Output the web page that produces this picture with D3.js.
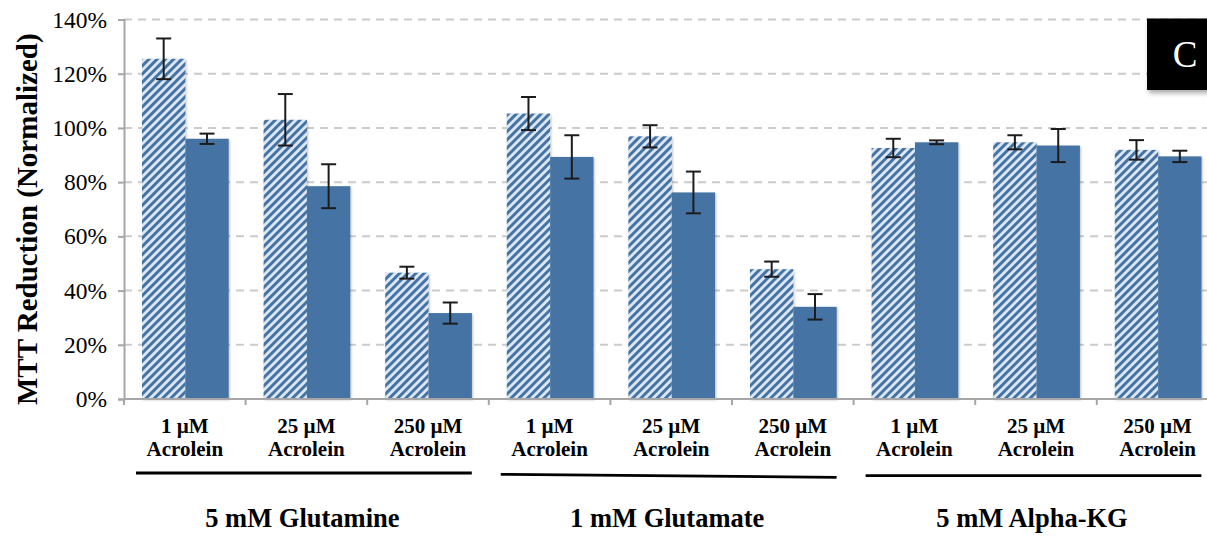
<!DOCTYPE html>
<html>
<head>
<meta charset="utf-8">
<script src="https://cdn.jsdelivr.net/npm/d3@7"></script>
<style>
  html, body { margin: 0; padding: 0; background: #fff; }
  svg { display: block; }
</style>
</head>
<body>
<svg id="chart" width="1207" height="536"></svg>
<script>
// Treatment groups and acrolein concentrations
const groups = ["5 mM Glutamine", "1 mM Glutamate", "5 mM Alpha-KG"];
const concentrations = ["1 µM", "25 µM", "250 µM"];
const compound = "Acrolein";

// MTT reduction (% of control), hatched and solid series, with error bars
const hatchedValues = [125.5, 103.0, 46.6, 105.3, 96.9, 47.9, 92.6, 94.7, 91.9];
const hatchedErrors = [7.5, 9.5, 2.2, 6.1, 4.1, 2.8, 3.4, 2.6, 3.6];
const solidValues   = [96.0, 78.5, 31.7, 89.3, 76.2, 34.0, 94.7, 93.5, 89.5];
const solidErrors   = [1.9, 8.1, 3.9, 8.0, 7.7, 4.7, 0.7, 6.1, 2.1];

const yTicks = [0, 20, 40, 60, 80, 100, 120, 140];
const panelLetter = "C";

const SERIF = "'Liberation Serif', 'Times New Roman', Times, serif";

// Build category rows (group × concentration)
const rows = [];
groups.forEach((g, gi) => concentrations.forEach((c, ci) => {
  const i = gi * concentrations.length + ci;
  rows.push({
    id: g + "|" + c, group: g, conc: c,
    bars: [
      { key: "hatched", value: hatchedValues[i], err: hatchedErrors[i] },
      { key: "solid",   value: solidValues[i],   err: solidErrors[i] }
    ]
  });
}));

const svg = d3.select("#chart");
const W = 1207;
const plotLeft = 124, plotBottom = 399, plotTop = 19.5;
const step = 121.6;

const x = d3.scaleBand()
  .domain(rows.map(d => d.id))
  .range([plotLeft, plotLeft + step * rows.length])
  .padding(0);

const xInner = d3.scaleBand()
  .domain(["hatched", "solid"])
  .range([18, 18 + 86.7])
  .padding(0);

const y = d3.scaleLinear().domain([0, 140]).range([plotBottom, plotTop]);

const blue = "#4573a3";
const lightBlue = "#dfe9f5";
const axisGray = "#a6a6a6";

// Defs: diagonal hatch pattern and soft shadows
const defs = svg.append("defs");
const pat = defs.append("pattern")
  .attr("id", "hatch")
  .attr("patternUnits", "userSpaceOnUse")
  .attr("width", 5.8).attr("height", 5.8)
  .attr("patternTransform", "rotate(45)");
pat.append("rect").attr("width", 5.8).attr("height", 5.8).attr("fill", lightBlue);
pat.append("rect").attr("width", 3.0).attr("height", 5.8).attr("fill", blue);

const shadow = defs.append("filter").attr("id", "shadow")
  .attr("x", "-10%").attr("y", "-10%").attr("width", "130%").attr("height", "130%");
shadow.append("feDropShadow")
  .attr("dx", 1).attr("dy", 1).attr("stdDeviation", 1.2)
  .attr("flood-color", "#000").attr("flood-opacity", 0.25);

const boxShadow = defs.append("filter").attr("id", "boxshadow")
  .attr("x", "-20%").attr("y", "-20%").attr("width", "150%").attr("height", "150%");
boxShadow.append("feDropShadow")
  .attr("dx", 2).attr("dy", 3).attr("stdDeviation", 2.5)
  .attr("flood-color", "#000").attr("flood-opacity", 0.35);

// Dashed gridlines
svg.append("g")
  .selectAll("line")
  .data(yTicks.filter(t => t > 0))
  .join("line")
  .attr("x1", plotLeft).attr("x2", W)
  .attr("y1", d => y(d)).attr("y2", d => y(d))
  .attr("stroke", "#cbcbcb").attr("stroke-width", 2)
  .attr("stroke-dasharray", "8,6");

// Y axis
const yAxis = d3.axisLeft(y)
  .tickValues(yTicks)
  .tickFormat(d => d + "%")
  .tickSize(6)
  .tickPadding(11);
const yg = svg.append("g")
  .attr("transform", `translate(${plotLeft},0)`)
  .call(yAxis)
  .attr("font-family", SERIF)
  .attr("font-size", 23.5);
yg.select(".domain").attr("stroke", axisGray).attr("stroke-width", 2);
yg.selectAll(".tick line").attr("stroke", axisGray).attr("stroke-width", 2);
yg.selectAll(".tick text")
  .attr("font-family", SERIF)
  .attr("font-size", 23.5)
  .attr("fill", "#000");

// Bars
const cat = svg.append("g").selectAll("g")
  .data(rows)
  .join("g")
  .attr("transform", d => `translate(${x(d.id)},0)`);

cat.selectAll("rect")
  .data(d => d.bars)
  .join("rect")
  .attr("x", b => xInner(b.key))
  .attr("width", xInner.bandwidth())
  .attr("y", b => y(b.value))
  .attr("height", b => y(0) - y(b.value))
  .attr("fill", b => b.key === "hatched" ? "url(#hatch)" : blue)
  .attr("filter", "url(#shadow)");

// Error bars
const eb = cat.selectAll("g.err")
  .data(d => d.bars)
  .join("g")
  .attr("class", "err")
  .attr("transform", b => `translate(${xInner(b.key) + xInner.bandwidth() / 2},0)`)
  .attr("stroke", "#1c1c1c")
  .attr("stroke-width", 2);
eb.append("line")
  .attr("y1", b => y(b.value + b.err)).attr("y2", b => y(b.value - b.err));
eb.append("line")
  .attr("x1", -7.5).attr("x2", 7.5)
  .attr("y1", b => y(b.value + b.err)).attr("y2", b => y(b.value + b.err));
eb.append("line")
  .attr("x1", -7.5).attr("x2", 7.5)
  .attr("y1", b => y(b.value - b.err)).attr("y2", b => y(b.value - b.err));

// X axis line and category boundary ticks
svg.append("line")
  .attr("x1", plotLeft).attr("x2", W)
  .attr("y1", plotBottom).attr("y2", plotBottom)
  .attr("stroke", axisGray).attr("stroke-width", 2);
svg.append("g").selectAll("line")
  .data(rows)
  .join("line")
  .attr("x1", d => x(d.id)).attr("x2", d => x(d.id))
  .attr("y1", plotBottom).attr("y2", plotBottom + 6)
  .attr("stroke", axisGray).attr("stroke-width", 2);

// Category labels (two lines)
const lbl = svg.append("g").selectAll("text")
  .data(rows)
  .join("text")
  .attr("text-anchor", "middle")
  .attr("font-family", SERIF)
  .attr("font-size", 21)
  .attr("font-weight", "bold")
  .attr("fill", "#000");
lbl.append("tspan")
  .attr("x", d => x(d.id) + x.bandwidth() / 2)
  .attr("y", 433)
  .text(d => d.conc);
lbl.append("tspan")
  .attr("x", d => x(d.id) + x.bandwidth() / 2)
  .attr("y", 456)
  .text(compound);

// Group brackets and labels
const groupSpan = g => {
  const ids = rows.filter(r => r.group === g).map(r => r.id);
  const x0 = x(ids[0]);
  const x1 = x(ids[ids.length - 1]) + x.bandwidth();
  return [x0, x1];
};
const gg = svg.append("g").selectAll("g")
  .data(groups)
  .join("g");
gg.append("line")
  .attr("x1", g => groupSpan(g)[0] + 12)
  .attr("x2", g => Math.min(groupSpan(g)[1] - 17, W - 5))
  .attr("y1", (g, i) => 473 + i * 1.3)
  .attr("y2", (g, i) => 473 + i * 1.3 + (i === 1 ? 3 : 0))
  .attr("stroke", "#000").attr("stroke-width", 2.8);
gg.append("text")
  .attr("x", (g, i) => (groupSpan(g)[0] + groupSpan(g)[1]) / 2 - 4)
  .attr("y", 527)
  .attr("text-anchor", "middle")
  .attr("font-family", SERIF)
  .attr("font-size", 26.5)
  .attr("font-weight", "bold")
  .attr("fill", "#000")
  .text(g => g);

// Y axis title
svg.append("text")
  .attr("transform", `translate(37,${(plotTop + plotBottom) / 2 + 10}) rotate(-90)`)
  .attr("text-anchor", "middle")
  .attr("font-family", SERIF)
  .attr("font-size", 29)
  .attr("font-weight", "bold")
  .attr("fill", "#000")
  .text("MTT Reduction (Normalized)");

// Panel letter box
svg.append("rect")
  .attr("x", 1147).attr("y", 18.5)
  .attr("width", 80).attr("height", 71.5)
  .attr("fill", "#000")
  .attr("filter", "url(#boxshadow)");
svg.append("text")
  .attr("x", 1185).attr("y", 67)
  .attr("text-anchor", "middle")
  .attr("font-family", SERIF)
  .attr("font-size", 37)
  .attr("fill", "#fff")
  .text(panelLetter);
</script>
</body>
</html>
